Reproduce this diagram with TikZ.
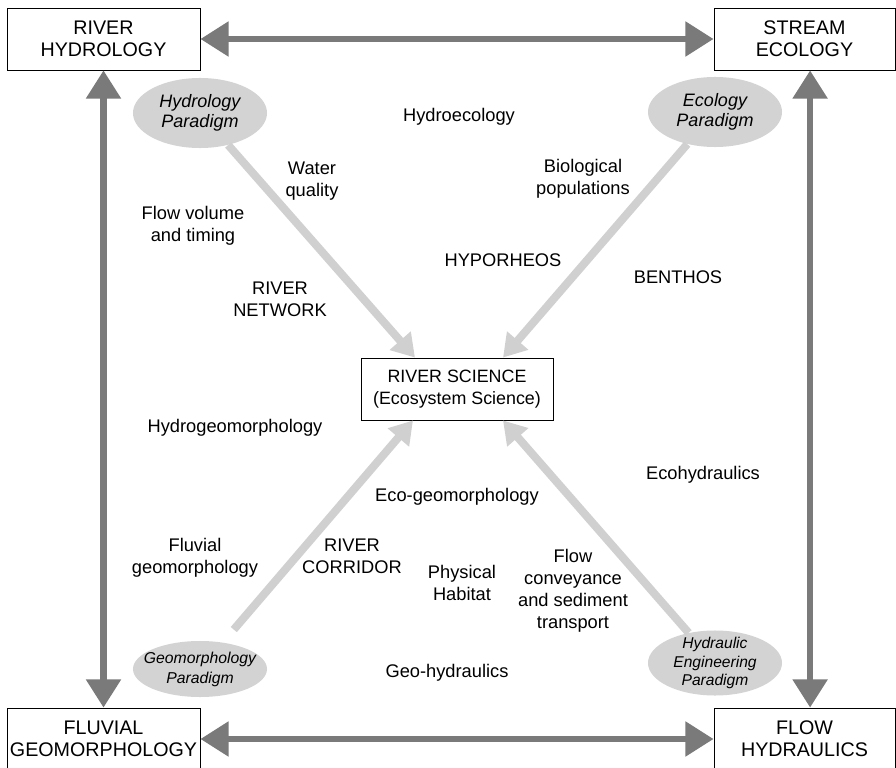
\documentclass[tikz,border=0pt]{standalone}
\usepackage{fontspec}
\setmainfont{Liberation Sans}
\usetikzlibrary{arrows.meta,shapes.geometric}
\definecolor{darkarrow}{HTML}{7A7A7A}
\definecolor{lightarrow}{HTML}{D0D0D0}
\definecolor{paradigmfill}{HTML}{D3D3D3}
\def\fieldfont{\fontsize{14}{15.6}\selectfont}
\def\topicfont{\fontsize{13}{15.6}\selectfont}
\def\bigtip{Triangle[length=20pt,width=24pt]}
\def\smalltip{Triangle[length=16pt,width=19pt]}

\begin{document}
\begin{tikzpicture}[x=0.025cm,y=-0.025cm,
	field/.style={draw,line width=0.6pt,minimum height=1.55cm,inner sep=0pt,align=center,font=\fieldfont},
	paradigm/.style={ellipse,fill=paradigmfill,inner sep=-8pt,minimum width=3.35cm,align=center},
	topic/.style={align=center,font=\topicfont},
	bigarrow/.style={darkarrow,line width=4.3pt,{\bigtip}-{\bigtip}},
	paraarrow/.style={lightarrow,line width=5.7pt,-{\smalltip}}]
	  \useasboundingbox (0,0) rectangle (896,768);

	  % the four disciplines
	  \node[field,minimum width=4.825cm] (hydrology) at (103.5,39) {RIVER\\HYDROLOGY};
	  \node[field,minimum width=4.525cm] (ecology) at (804.5,39) {STREAM\\ECOLOGY};
	  \node[field,minimum width=4.825cm] (fluvial) at (103.5,739) {FLUVIAL\\GEOMORPHOLOGY};
	  \node[field,minimum width=4.525cm] (hydraulics) at (804.5,739) {FLOW\\HYDRAULICS};
	  \node[field,minimum width=4.8cm,font=\fontsize{12.7}{15.6}\selectfont] (science) at (457,389) {RIVER SCIENCE\\(Ecosystem Science)};

	  % paradigms
	  \node[paradigm,minimum height=1.75cm,font=\itshape\fontsize{12.8}{14.2}\selectfont] (hydroP) at (200,113) {Hydrology\\Paradigm};
	  \node[paradigm,minimum height=1.75cm,font=\itshape\fontsize{12.8}{14.2}\selectfont] (ecoP) at (715,112) {Ecology\\Paradigm};
	  \node[paradigm,minimum height=1.4cm,font=\itshape\fontsize{11.2}{14.2}\selectfont] (geoP) at (200,669) {Geomorphology\\Paradigm};
	  \node[paradigm,minimum height=1.625cm,font=\itshape\fontsize{11.1}{13.3}\selectfont] (engP) at (715,663) {Hydraulic\\Engineering\\Paradigm};

	  % topics in between
	  \node[topic] (hydroeco) at (459,117) {Hydroecology};
	  \node[topic] (water) at (312,181) {Water\\quality};
	  \node[topic] (bio) at (583,179) {Biological\\populations};
	  \node[topic] (volume) at (193,226) {Flow volume\\and timing};
	  \node[topic] (hyporheos) at (503,260) {HYPORHEOS};
	  \node[topic] (benthos) at (678,277) {BENTHOS};
	  \node[topic] (network) at (280,299) {RIVER\\NETWORK};
	  \node[topic] (hydrogeo) at (235,428) {Hydrogeomorphology};
	  \node[topic] (ecohyd) at (703,475) {Ecohydraulics};
	  \node[topic] (ecogeo) at (457,497) {Eco-geomorphology};
	  \node[topic] (fluvgeo) at (195,558) {Fluvial\\geomorphology};
	  \node[topic] (corridor) at (352,556) {RIVER\\CORRIDOR};
	  \node[topic] (habitat) at (462,583) {Physical\\Habitat};
	  \node[topic] (conveyance) at (573,591) {Flow\\conveyance\\and sediment\\transport};
	  \node[topic] (geohyd) at (447,673) {Geo-hydraulics};

	  % links
	  \draw[bigarrow] (hydrology) -- (ecology);
	  \draw[bigarrow] (fluvial) -- (hydraulics);
	  \draw[bigarrow] (hydrology) -- (fluvial);
	  \draw[bigarrow] ([xshift=0.14cm]ecology.south) -- ([xshift=0.14cm]hydraulics.north);

	  \draw[paraarrow] (hydroP) -- ([xshift=-1.05cm]science.north);
	  \draw[paraarrow] (ecoP) -- ([xshift=1.15cm]science.north);
	  \draw[paraarrow,shorten <=12pt] (geoP) -- ([xshift=-1.1cm]science.south);
	  \draw[paraarrow] (engP) -- ([xshift=1.15cm]science.south);
\end{tikzpicture}
\end{document}
